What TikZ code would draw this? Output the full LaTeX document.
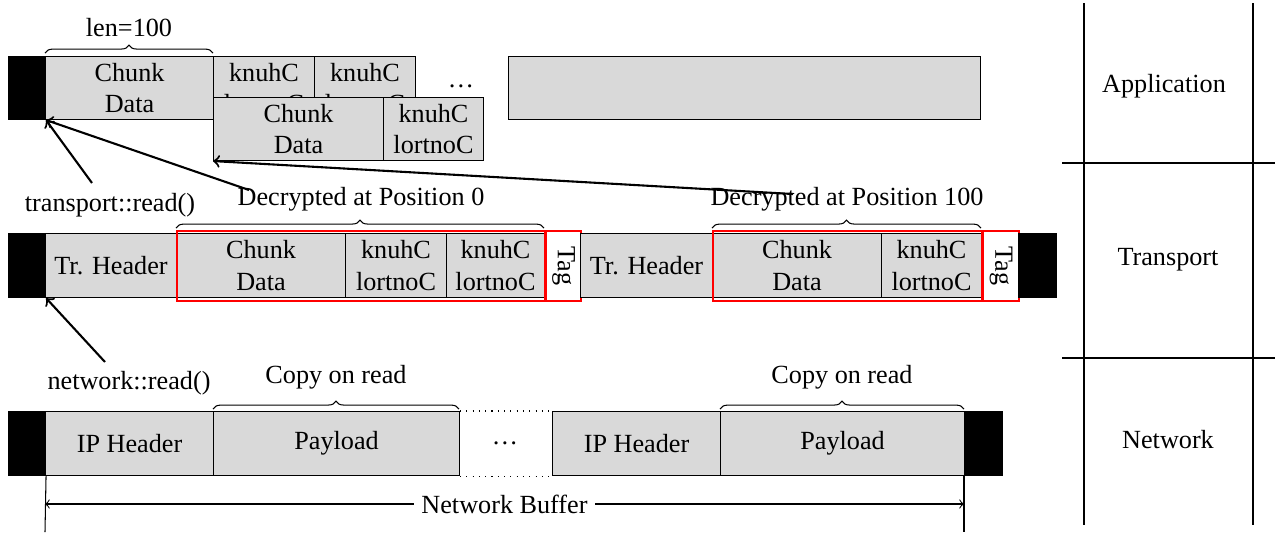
\documentclass[tikz,border=0pt]{standalone}
\usepackage{fontspec}
\setmainfont{Liberation Serif}
\usetikzlibrary{decorations.pathreplacing}
\begin{document}
\begin{tikzpicture}[x=0.3817pt,y=-0.3817pt,
  sz/.style 2 args={anchor=north west, minimum width=#1*0.3817pt, minimum height=#2*0.3817pt},
  cell/.style={draw=black, fill=black!15, inner sep=0pt, align=center, line width=0.4pt},
  blk/.style={draw=black, fill=black, inner sep=0pt},
  redbox/.style={draw=red, line width=0.8pt, inner sep=0pt},
  tagbox/.style={draw=red, fill=white, line width=0.8pt, inner sep=0pt},
  brc/.style={decorate, decoration={brace, amplitude=3pt}},
  lbl/.style={inner sep=0pt},
  ptr/.style={->, line width=0.8pt},
  layer/.style={line width=0.8pt}]
\useasboundingbox (0,0) rectangle (1275,533);

% ---------- Application row ----------
\node[blk, sz={37}{63}] (ablk) at (8,56) {};
\node[cell, sz={168}{63}] (achunk) at (45,56) {Chunk\\Data};
\node[cell, sz={101}{63}] (actl1) at (213,56) {knuhC\\lortnoC};
\node[cell, sz={101}{63}] (actl2) at (314,56) {knuhC\\lortnoC};
\node[lbl] (adots) at (461,86) {\dots};
\node[cell, sz={170}{63}] (bchunk) at (213,97) {Chunk\\Data};
\node[cell, sz={100}{63}] (bctl) at (383,97) {knuhC\\lortnoC};
\node[cell, sz={472}{63}] (abuf) at (508,56) {};
\draw[brc] (45,53) -- (213,53);
\node[lbl] (len) at (129,28) {len=100};

% ---------- Transport row ----------
\node[blk, sz={37}{64}] (tblk1) at (8,233) {};
\node[cell, sz={131}{64}] (thdr1) at (45,233) {Tr. Header};
\node[cell, sz={169}{64}] (tchunk1) at (176,233) {Chunk\\Data};
\node[cell, sz={101}{64}] (tctl1) at (345,233) {knuhC\\lortnoC};
\node[cell, sz={98}{64}] (tctl2) at (446,233) {knuhC\\lortnoC};
\node[redbox, sz={368}{70}] (tenc1) at (176,230) {};
\node[tagbox, sz={35}{70}] (ttag1) at (545,230) {};
\node[rotate=-90, inner sep=0pt] (ttag1t) at (ttag1.center) {Tag};
\node[cell, sz={132}{64}] (thdr2) at (580,233) {Tr. Header};
\node[cell, sz={169}{64}] (tchunk2) at (712,233) {Chunk\\Data};
\node[cell, sz={100}{64}] (tctl3) at (881,233) {knuhC\\lortnoC};
\node[redbox, sz={269}{70}] (tenc2) at (712,230) {};
\node[tagbox, sz={36}{70}] (ttag2) at (982,230) {};
\node[rotate=-90, inner sep=0pt] (ttag2t) at (ttag2.center) {Tag};
\node[blk, sz={38}{64}] (tblk2) at (1018,233) {};

\draw[brc] (176,228) -- (544,228);
\draw[brc] (712,228) -- (981,228);
\node[lbl] (dec0) at (361,199) {Decrypted at Position 0};
\node[lbl] (dec100) at (847,199) {Decrypted at Position 100};
\node[lbl] (tread) at (110,205) {transport::read()};

% ---------- Network row ----------
\node[blk, sz={37}{64}] (nblk1) at (8,411) {};
\node[cell, sz={168}{64}] (nhdr1) at (45,411) {IP Header};
\node[cell, sz={246}{64}] (npay1) at (213,411) {Payload};
\node[lbl] (ndots) at (505,443) {\dots};
\node[cell, sz={168}{64}] (nhdr2) at (552,411) {IP Header};
\node[cell, sz={244}{64}] (npay2) at (720,411) {Payload};
\node[blk, sz={38}{64}] (nblk2) at (964,411) {};
\draw[dotted] (npay1.north east) -- (nhdr2.north west);
\draw[dotted] (npay1.south east) -- (nhdr2.south west);

\draw[brc] (213,409) -- (459,409);
\draw[brc] (720,409) -- (964,409);
\node[lbl] (copy1) at (336,377) {Copy on read};
\node[lbl] (copy2) at (842,377) {Copy on read};
\node[lbl] (nread) at (129,383) {network::read()};

% ---------- arrows ----------
\coordinate (tr0) at (92,183);
\draw[ptr] (tr0) -- (ablk.south east);
\coordinate (nr0) at (105,362);
\draw[ptr] (nr0) -- (tblk1.south east);
\coordinate (d0) at (249,190);
\draw[ptr] (d0) -- (ablk.south east);
\coordinate (d1) at (793,194);
\draw[ptr] (d1) -- (bchunk.south west);

% ---------- network buffer ----------
\coordinate (nbl) at (45,532);
\coordinate (nbr) at (964,532);
\draw (nblk1.south east) -- (nbl);
\draw (nblk2.south west) -- (nbr);
\coordinate (nba) at (45,504);
\coordinate (nbb) at (964,504);
\draw[<->] (nba) -- node[fill=white, inner sep=3pt] (nbuf) {Network Buffer} (nbb);

% ---------- layers ----------
\coordinate (l1t) at (1084,3);
\coordinate (l1b) at (1084,525);
\coordinate (l2t) at (1253,3);
\coordinate (l2b) at (1253,525);
\coordinate (h1l) at (1062,163);
\coordinate (h1r) at (1275,163);
\coordinate (h2l) at (1062,358);
\coordinate (h2r) at (1275,358);
\draw[layer] (l1t) -- (l1b);
\draw[layer] (l2t) -- (l2b);
\draw[layer] (h1l) -- (h1r);
\draw[layer] (h2l) -- (h2r);
\node (lapp) at (1164,86) {Application};
\node (ltr) at (1168,260) {Transport};
\node (lnet) at (1168,440) {Network};
\end{tikzpicture}
\end{document}
